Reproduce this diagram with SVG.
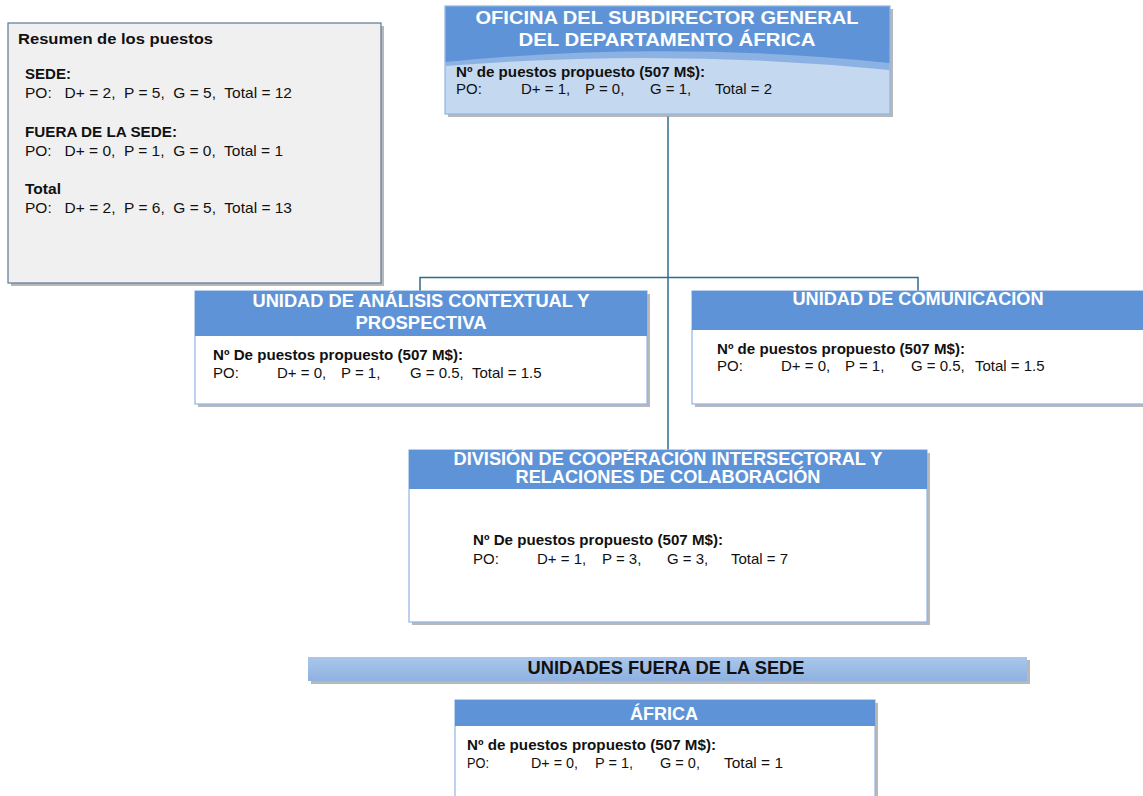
<svg xmlns="http://www.w3.org/2000/svg" width="1143" height="796" viewBox="0 0 1143 796">
<defs>
<style>
.hdr{fill:#5e94d7}
.box{fill:#ffffff;stroke:#8fb4e3;stroke-width:1.2}
.shadow{fill:#9a9a9a;opacity:0.7}
.t{font-family:"Liberation Sans",Arial,sans-serif;font-size:15px;fill:#111}
.b{font-family:"Liberation Sans",Arial,sans-serif;font-size:15px;font-weight:bold;fill:#111}
.w{font-family:"Liberation Sans",Arial,sans-serif;font-size:18px;font-weight:bold;fill:#ffffff;text-anchor:middle}
.conn{fill:none;stroke:#2f6c8c;stroke-width:1.5}
</style>
<linearGradient id="ban" x1="0" y1="0" x2="0" y2="1">
<stop offset="0" stop-color="#a9c7ec"/>
<stop offset="1" stop-color="#8fb1e0"/>
</linearGradient>
</defs>
<rect width="1143" height="796" fill="#ffffff"/>

<g id="connectors">
<path class="conn" d="M668,116 V450"/>
<path class="conn" d="M420,291 V277.5 H918 V291"/>
</g>

<g id="summary">
<rect x="11" y="26" width="373" height="260" class="shadow"/>
<rect x="8" y="23" width="373" height="260" fill="#f0f0f0" stroke="#5a7896" stroke-width="1.2"/>
<text x="18" y="44" class="b" textLength="195" lengthAdjust="spacingAndGlyphs">Resumen de los puestos</text>
<text x="25" y="79" class="b" textLength="46" lengthAdjust="spacingAndGlyphs">SEDE:</text>
<text x="25" y="98" class="t" xml:space="preserve" textLength="267" lengthAdjust="spacingAndGlyphs">PO:   D+ = 2,  P = 5,  G = 5,  Total = 12</text>
<text x="25" y="137" class="b" textLength="152" lengthAdjust="spacingAndGlyphs">FUERA DE LA SEDE:</text>
<text x="25" y="156" class="t" xml:space="preserve" textLength="258" lengthAdjust="spacingAndGlyphs">PO:   D+ = 0,  P = 1,  G = 0,  Total = 1</text>
<text x="25" y="194" class="b" textLength="36" lengthAdjust="spacingAndGlyphs">Total</text>
<text x="25" y="213" class="t" xml:space="preserve" textLength="267" lengthAdjust="spacingAndGlyphs">PO:   D+ = 2,  P = 6,  G = 5,  Total = 13</text>
</g>

<g id="oficina">
<rect x="448" y="9" width="445" height="108" class="shadow"/>
<rect x="445" y="6" width="445" height="108" fill="#c4d8ef" stroke="#8fb4e3" stroke-width="1.2"/>
<path d="M445.6,6.6 H889.4 V70 Q668,48 445.6,66 Z" fill="#8cb2e4"/>
<path d="M445.6,6.6 H889.4 V63 Q668,40 445.6,62 Z" class="hdr"/>
<text x="667" y="24" class="w" textLength="383" lengthAdjust="spacingAndGlyphs">OFICINA DEL SUBDIRECTOR GENERAL</text>
<text x="667" y="46" class="w" textLength="297" lengthAdjust="spacingAndGlyphs">DEL DEPARTAMENTO ÁFRICA</text>
<text x="456" y="77" class="b" textLength="249" lengthAdjust="spacingAndGlyphs">Nº de puestos propuesto (507 M$):</text>
<text x="456" y="94" class="t">PO:</text>
<text x="521" y="94" class="t">D+ = 1,</text>
<text x="585" y="94" class="t">P = 0,</text>
<text x="650" y="94" class="t">G = 1,</text>
<text x="715" y="94" class="t">Total = 2</text>
</g>

<g id="analisis">
<rect x="198" y="294" width="452" height="113" class="shadow"/>
<rect x="195" y="291" width="452" height="113" class="box"/>
<rect x="195" y="291" width="452" height="45" class="hdr"/>
<text x="421" y="307" class="w" textLength="337" lengthAdjust="spacingAndGlyphs">UNIDAD DE ANÁLISIS CONTEXTUAL Y</text>
<text x="421" y="329" class="w" textLength="131" lengthAdjust="spacingAndGlyphs">PROSPECTIVA</text>
<text x="213" y="360" class="b" textLength="250" lengthAdjust="spacingAndGlyphs">Nº De puestos propuesto (507 M$):</text>
<text x="213" y="378" class="t">PO:</text>
<text x="277" y="378" class="t">D+ = 0,</text>
<text x="341" y="378" class="t">P = 1,</text>
<text x="410" y="378" class="t">G = 0.5,</text>
<text x="472" y="378" class="t">Total = 1.5</text>
</g>

<g id="comunicacion">
<rect x="695" y="294" width="452" height="113" class="shadow"/>
<rect x="692" y="291" width="455" height="113" class="box"/>
<rect x="692" y="291" width="455" height="39" class="hdr"/>
<text x="918" y="305" class="w" textLength="251" lengthAdjust="spacingAndGlyphs">UNIDAD DE COMUNICACIÓN</text>
<text x="717" y="354" class="b" textLength="248" lengthAdjust="spacingAndGlyphs">Nº de puestos propuesto (507 M$):</text>
<text x="717" y="371" class="t">PO:</text>
<text x="781" y="371" class="t">D+ = 0,</text>
<text x="845" y="371" class="t">P = 1,</text>
<text x="911" y="371" class="t">G = 0.5,</text>
<text x="975" y="371" class="t">Total = 1.5</text>
</g>

<g id="division">
<rect x="412" y="453" width="518" height="172" class="shadow"/>
<rect x="409" y="450" width="518" height="172" class="box"/>
<rect x="409" y="450" width="518" height="39" class="hdr"/>
<text x="668" y="465" class="w" textLength="429" lengthAdjust="spacingAndGlyphs">DIVISIÓN DE COOPÉRACIÓN INTERSECTORAL Y</text>
<text x="668" y="483" class="w" textLength="305" lengthAdjust="spacingAndGlyphs">RELACIONES DE COLABORACIÓN</text>
<text x="473" y="545" class="b" textLength="250" lengthAdjust="spacingAndGlyphs">Nº De puestos propuesto (507 M$):</text>
<text x="473" y="564" class="t">PO:</text>
<text x="537" y="564" class="t">D+ = 1,</text>
<text x="602" y="564" class="t">P = 3,</text>
<text x="667" y="564" class="t">G = 3,</text>
<text x="731" y="564" class="t">Total = 7</text>
</g>

<g id="banner">
<rect x="311" y="660" width="719" height="24" class="shadow"/>
<rect x="308" y="657" width="719" height="24" fill="url(#ban)"/>
<text x="666" y="674" font-family="'Liberation Sans',Arial,sans-serif" font-size="18" font-weight="bold" fill="#111" text-anchor="middle" textLength="277" lengthAdjust="spacingAndGlyphs">UNIDADES FUERA DE LA SEDE</text>
</g>

<g id="africa">
<rect x="458" y="703" width="420" height="100" class="shadow"/>
<rect x="455" y="700" width="420" height="100" class="box"/>
<rect x="455" y="700" width="420" height="26" class="hdr"/>
<text x="664" y="720" class="w" font-size="19" textLength="68" lengthAdjust="spacingAndGlyphs">ÁFRICA</text>
<text x="467" y="750" class="b" textLength="249" lengthAdjust="spacingAndGlyphs">Nº de puestos propuesto (507 M$):</text>
<text x="467" y="768" class="t" textLength="22" lengthAdjust="spacingAndGlyphs">PO:</text>
<text x="531" y="768" class="t" textLength="47" lengthAdjust="spacingAndGlyphs">D+ = 0,</text>
<text x="595" y="768" class="t" textLength="38" lengthAdjust="spacingAndGlyphs">P = 1,</text>
<text x="660" y="768" class="t" textLength="40" lengthAdjust="spacingAndGlyphs">G = 0,</text>
<text x="724" y="768" class="t" textLength="59" lengthAdjust="spacingAndGlyphs">Total = 1</text>
</g>
</svg>
